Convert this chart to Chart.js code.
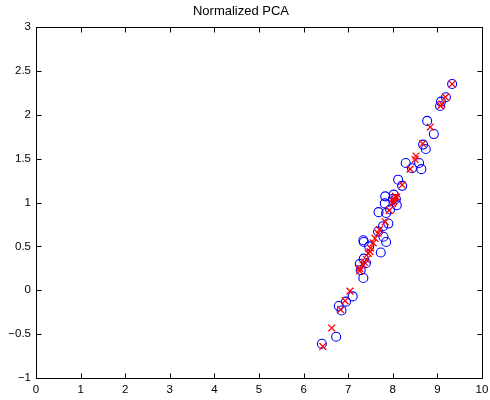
<!DOCTYPE html>
<html>
<head>
<meta charset="utf-8">
<script src="https://cdn.jsdelivr.net/npm/chart.js@4/dist/chart.umd.min.js"></script>
<style>
  html, body { margin: 0; padding: 0; background: #fff; }
  #wrap { width: 490px; height: 400px; position: relative; }
</style>
</head>
<body>
<div id="wrap"><canvas id="c" width="490" height="400"></canvas></div>
<script>
// ---- Data ----
const chartTitle = "Normalized PCA";

const circleX = [9.33, 9.19, 9.08, 9.06, 8.77, 8.92, 8.68, 8.74, 8.29, 8.59,
                 8.64, 8.43, 8.12, 8.21, 7.83, 8.02, 8.07, 7.82, 8.09, 7.68,
                 8.00, 7.85, 7.90, 7.67, 7.34, 7.35, 7.79, 7.85, 7.47, 7.73,
                 7.35, 7.26, 7.40, 7.28, 7.34, 7.10, 6.95, 6.79, 6.85, 6.73,
                 6.41, 7.78, 7.94];
const circleY = [2.35, 2.20, 2.15, 2.10, 1.93, 1.78, 1.66, 1.61, 1.45, 1.45,
                 1.38, 1.39, 1.26, 1.19, 1.07, 1.09, 1.04, 0.99, 0.97, 0.89,
                 1.04, 0.88, 0.76, 0.67, 0.57, 0.55, 0.61, 0.55, 0.50, 0.43,
                 0.36, 0.30, 0.31, 0.23, 0.14, -0.07, -0.13, -0.18, -0.23, -0.53,
                 -0.61, 0.73, 0.92];

const crossX = [9.33, 9.18, 9.10, 9.07, 8.84, 8.67, 8.52, 8.50, 8.39, 8.21,
                8.09, 8.06, 8.04, 8.02, 8.00, 7.92, 7.83, 7.70, 7.67, 7.60,
                7.56, 7.50, 7.49, 7.45, 7.41, 7.36, 7.33, 7.26, 7.26, 7.04,
                6.93, 6.83, 6.63, 6.43];
const crossY = [2.35, 2.20, 2.12, 2.10, 1.86, 1.67, 1.53, 1.49, 1.38, 1.20,
                1.06, 1.07, 1.04, 1.01, 0.99, 0.91, 0.78, 0.69, 0.65, 0.59,
                0.54, 0.48, 0.44, 0.42, 0.35, 0.32, 0.29, 0.25, 0.22, -0.01,
                -0.12, -0.22, -0.43, -0.64];

const xTickValues = [0, 1, 2, 3, 4, 5, 6, 7, 8, 9, 10];
const xTickLabels = ["0", "1", "2", "3", "4", "5", "6", "7", "8", "9", "10"];
const yTickValues = [-1, -0.5, 0, 0.5, 1, 1.5, 2, 2.5, 3];
const yTickLabels = ["\u22121", "\u22120.5", "0", "0.5", "1", "1.5", "2", "2.5", "3"];

// ---- Build datasets from arrays ----
const circlePts = circleX.map((x, i) => ({ x: x, y: circleY[i] }));
const crossPts = crossX.map((x, i) => ({ x: x, y: crossY[i] }));

const FONT = "'Liberation Sans', Arial, Helvetica, sans-serif";

// Box with inward ticks on all four sides (MATLAB style)
const boxPlugin = {
  id: 'boxPlugin',
  afterDatasetsDraw(chart) {
    const ctx = chart.ctx;
    const a = chart.chartArea;
    const xs = chart.scales.x, ys = chart.scales.y;
    const L = 5;
    ctx.save();
    ctx.strokeStyle = '#000';
    ctx.lineWidth = 1;
    ctx.beginPath();
    const l = Math.round(a.left) + 0.5, r = Math.round(a.right) + 0.5;
    const t = Math.round(a.top) + 0.5, b = Math.round(a.bottom) + 0.5;
    ctx.rect(l, t, r - l, b - t);
    xTickValues.forEach(v => {
      const px = Math.round(xs.getPixelForValue(v)) + 0.5;
      ctx.moveTo(px, b); ctx.lineTo(px, b - L);
      ctx.moveTo(px, t); ctx.lineTo(px, t + L);
    });
    yTickValues.forEach(v => {
      const py = Math.round(ys.getPixelForValue(v)) + 0.5;
      ctx.moveTo(l, py); ctx.lineTo(l + L, py);
      ctx.moveTo(r, py); ctx.lineTo(r - L, py);
    });
    ctx.stroke();
    ctx.restore();
  }
};

new Chart(document.getElementById('c'), {
  type: 'scatter',
  data: {
    datasets: [
      {
        label: 'projected',
        data: crossPts,
        order: 0,
        pointStyle: 'crossRot',
        pointRadius: 4.8,
        pointHoverRadius: 4.8,
        borderColor: '#ff0000',
        backgroundColor: '#ff0000',
        pointBorderWidth: 1.3
      },
      {
        label: 'original',
        data: circlePts,
        order: 1,
        pointStyle: 'circle',
        pointRadius: 4.5,
        pointHoverRadius: 4.5,
        borderColor: '#0000ff',
        backgroundColor: 'rgba(0,0,0,0)',
        pointBorderWidth: 1.1
      }
    ]
  },
  options: {
    responsive: false,
    animation: false,
    events: [],
    layout: { padding: { left: 0, right: 8, top: 0, bottom: 0 } },
    plugins: {
      legend: { display: false },
      tooltip: { enabled: false },
      title: {
        display: true,
        text: chartTitle,
        color: '#000',
        font: { family: FONT, size: 13, weight: 'normal' },
        padding: { top: 4, bottom: 7.4 }
      }
    },
    scales: {
      x: {
        type: 'linear',
        min: 0, max: 10,
        afterBuildTicks(scale) { scale.ticks = xTickValues.map(v => ({ value: v })); },
        afterFit(scale) { scale.height = 22; scale.paddingLeft = 0; scale.paddingRight = 0; },
        grid: { display: false, drawTicks: false },
        border: { display: false },
        ticks: {
          color: '#000',
          padding: 5,
          maxRotation: 0,
          autoSkip: false,
          font: { family: FONT, size: 11.5 },
          callback: (v) => { const i = xTickValues.indexOf(v); return i >= 0 ? xTickLabels[i] : ''; }
        }
      },
      y: {
        type: 'linear',
        min: -1, max: 3,
        afterBuildTicks(scale) { scale.ticks = yTickValues.map(v => ({ value: v })); },
        afterFit(scale) { scale.width = 36; scale.paddingTop = 0; scale.paddingBottom = 0; },
        grid: { display: false, drawTicks: false },
        border: { display: false },
        ticks: {
          color: '#000',
          padding: 5,
          autoSkip: false,
          font: { family: FONT, size: 11.5 },
          callback: (v) => { const i = yTickValues.indexOf(v); return i >= 0 ? yTickLabels[i] : ''; }
        }
      }
    }
  },
  plugins: [boxPlugin]
});
</script>
</body>
</html>
